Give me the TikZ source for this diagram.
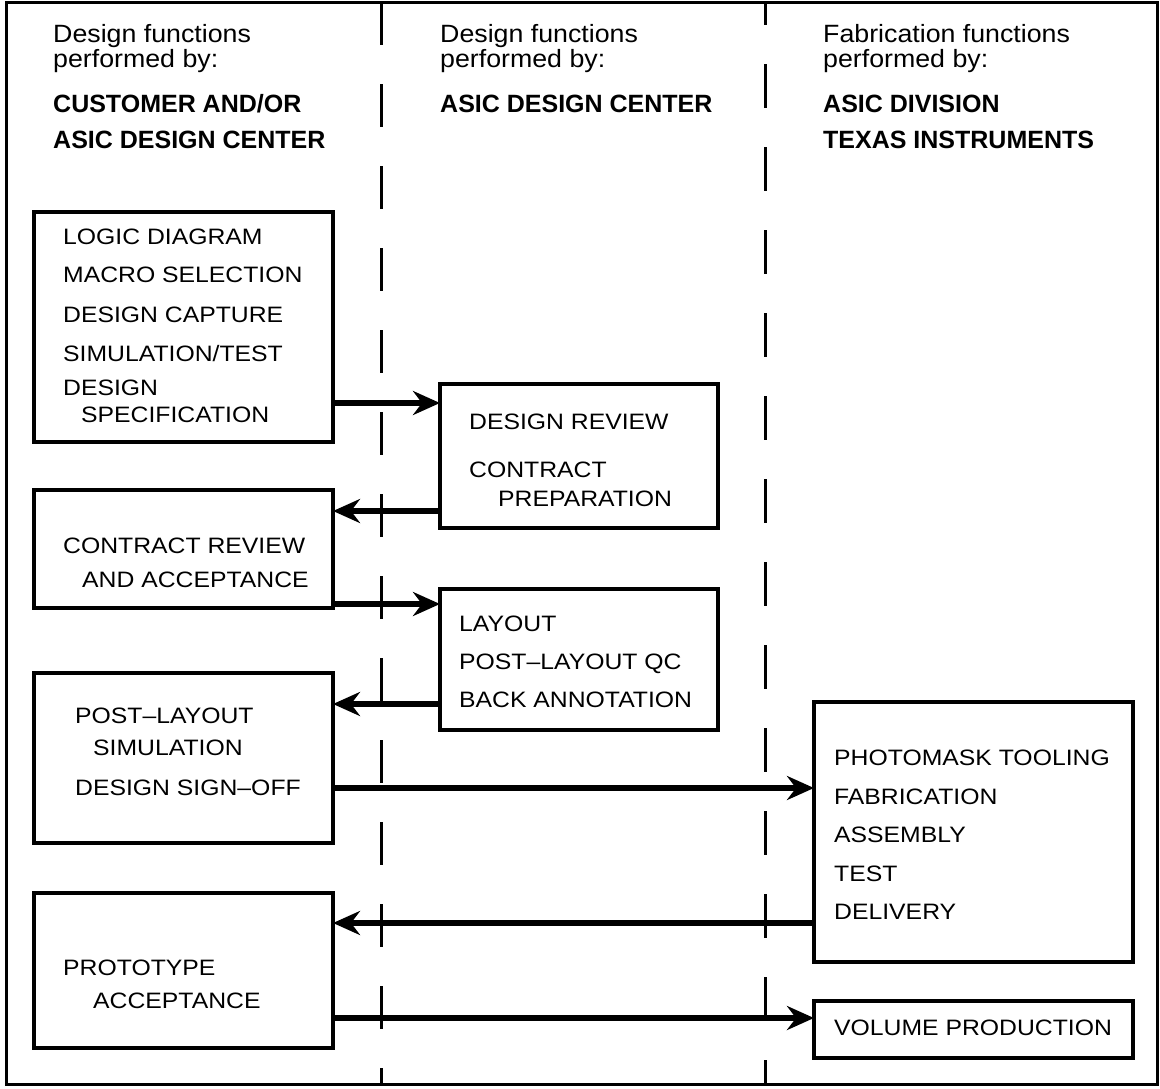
\documentclass[tikz,border=0pt]{standalone}
\usepackage{fontspec}
\setmainfont{Liberation Sans}
\newfontfamily\boxfont{Liberation Sans}[FakeStretch=1.11]
\newfontfamily\hdfont{Liberation Sans}[FakeStretch=1.07]
\usetikzlibrary{arrows.meta}
\newcommand\mkbox[5]{\node[box, minimum width=#4pt, minimum height=#5pt] (#1) at (#2,#3) {};}
\newcommand\bl[4]{\node[bt] (#1) at (#2,#3) {#4};}
\begin{document}
\begin{tikzpicture}[x=1pt,y=-1pt,
  frame/.style={line width=3pt},
  divider/.style={line width=3pt},
  box/.style={draw, line width=3.5pt, anchor=north west, inner sep=0pt, outer sep=0pt},
  arr/.style={line width=5.5pt, -{Stealth[length=27pt,width=24pt,inset=9pt]}},
  bt/.style={anchor=base west, inner sep=0pt, font=\boxfont\fontsize{22.3}{26}\selectfont},
  hd/.style={anchor=base west, inner sep=0pt, align=left, font=\hdfont\fontsize{25}{24.5}\selectfont},
  hb/.style={anchor=base west, inner sep=0pt, font=\bfseries\fontsize{25}{28}\selectfont},
]
\useasboundingbox (0,0) rectangle (1160,1088);
\draw[frame] (6,2) rectangle (1157,1084);
% column dividers
\draw[divider, dash pattern=on 43pt off 39pt] (381,2) -- (381,1084);
\draw[divider, dash pattern=on 44pt off 39pt, dash phase=21pt] (765,2) -- (765,1084);

% headers
\node[hd] (h1a) at (53,67) {Design functions\\performed by:};
\node[hb] (h1c) at (53,112) {CUSTOMER AND/OR};
\node[hb] (h1d) at (53,148) {ASIC DESIGN CENTER};
\node[hd] (h2a) at (440,67) {Design functions\\performed by:};
\node[hb] (h2c) at (440,112) {ASIC DESIGN CENTER};
\node[hd] (h3a) at (823,67) {Fabrication functions\\performed by:};
\node[hb] (h3c) at (823,112) {ASIC DIVISION};
\node[hb] (h3d) at (823,148) {TEXAS INSTRUMENTS};

% boxes
\mkbox{b1}{34}{212}{299}{230}
\mkbox{b2}{440}{384}{278}{144}
\mkbox{b3}{34}{490}{299}{118}
\mkbox{b4}{440}{589}{278}{141}
\mkbox{b5}{34}{673}{299}{170}
\mkbox{b6}{814}{702}{319}{260}
\mkbox{b7}{34}{893}{299}{155}
\mkbox{b8}{814}{1001}{319}{57}

% box texts
\bl{t1a}{63}{244}{LOGIC DIAGRAM}
\bl{t1b}{63}{282}{MACRO SELECTION}
\bl{t1c}{63}{322}{DESIGN CAPTURE}
\bl{t1d}{63}{361}{SIMULATION/TEST}
\bl{t1e}{63}{395}{DESIGN}
\bl{t1f}{81}{422}{SPECIFICATION}
\bl{t2a}{469}{429}{DESIGN REVIEW}
\bl{t2b}{469}{477}{CONTRACT}
\bl{t2c}{498}{506}{PREPARATION}
\bl{t3a}{63}{553}{CONTRACT REVIEW}
\bl{t3b}{82}{587}{AND ACCEPTANCE}
\bl{t4a}{459}{631}{LAYOUT}
\bl{t4b}{459}{669}{POST–LAYOUT QC}
\bl{t4c}{459}{707}{BACK ANNOTATION}
\bl{t5a}{75}{723}{POST–LAYOUT}
\bl{t5b}{93}{755}{SIMULATION}
\bl{t5c}{75}{795}{DESIGN SIGN–OFF}
\bl{t6a}{834}{765}{PHOTOMASK TOOLING}
\bl{t6b}{834}{804}{FABRICATION}
\bl{t6c}{834}{842}{ASSEMBLY}
\bl{t6d}{834}{881}{TEST}
\bl{t6e}{834}{919}{DELIVERY}
\bl{t7a}{63}{975}{PROTOTYPE}
\bl{t7b}{93}{1008}{ACCEPTANCE}
\bl{t8a}{834}{1035}{VOLUME PRODUCTION}

% arrows
\coordinate (y1) at (0,403);
\coordinate (y2) at (0,511);
\coordinate (y3) at (0,604);
\coordinate (y4) at (0,704);
\coordinate (y5) at (0,788);
\coordinate (y6) at (0,923);
\coordinate (y7) at (0,1018);
\draw[arr] (b1.east |- y1) -- (b2.west |- y1);
\draw[arr] (b2.west |- y2) -- (b3.east |- y2);
\draw[arr] (b3.east |- y3) -- (b4.west |- y3);
\draw[arr] (b4.west |- y4) -- (b5.east |- y4);
\draw[arr] (b5.east |- y5) -- (b6.west |- y5);
\draw[arr] (b6.west |- y6) -- (b7.east |- y6);
\draw[arr] (b7.east |- y7) -- (b8.west |- y7);
\end{tikzpicture}
\end{document}
